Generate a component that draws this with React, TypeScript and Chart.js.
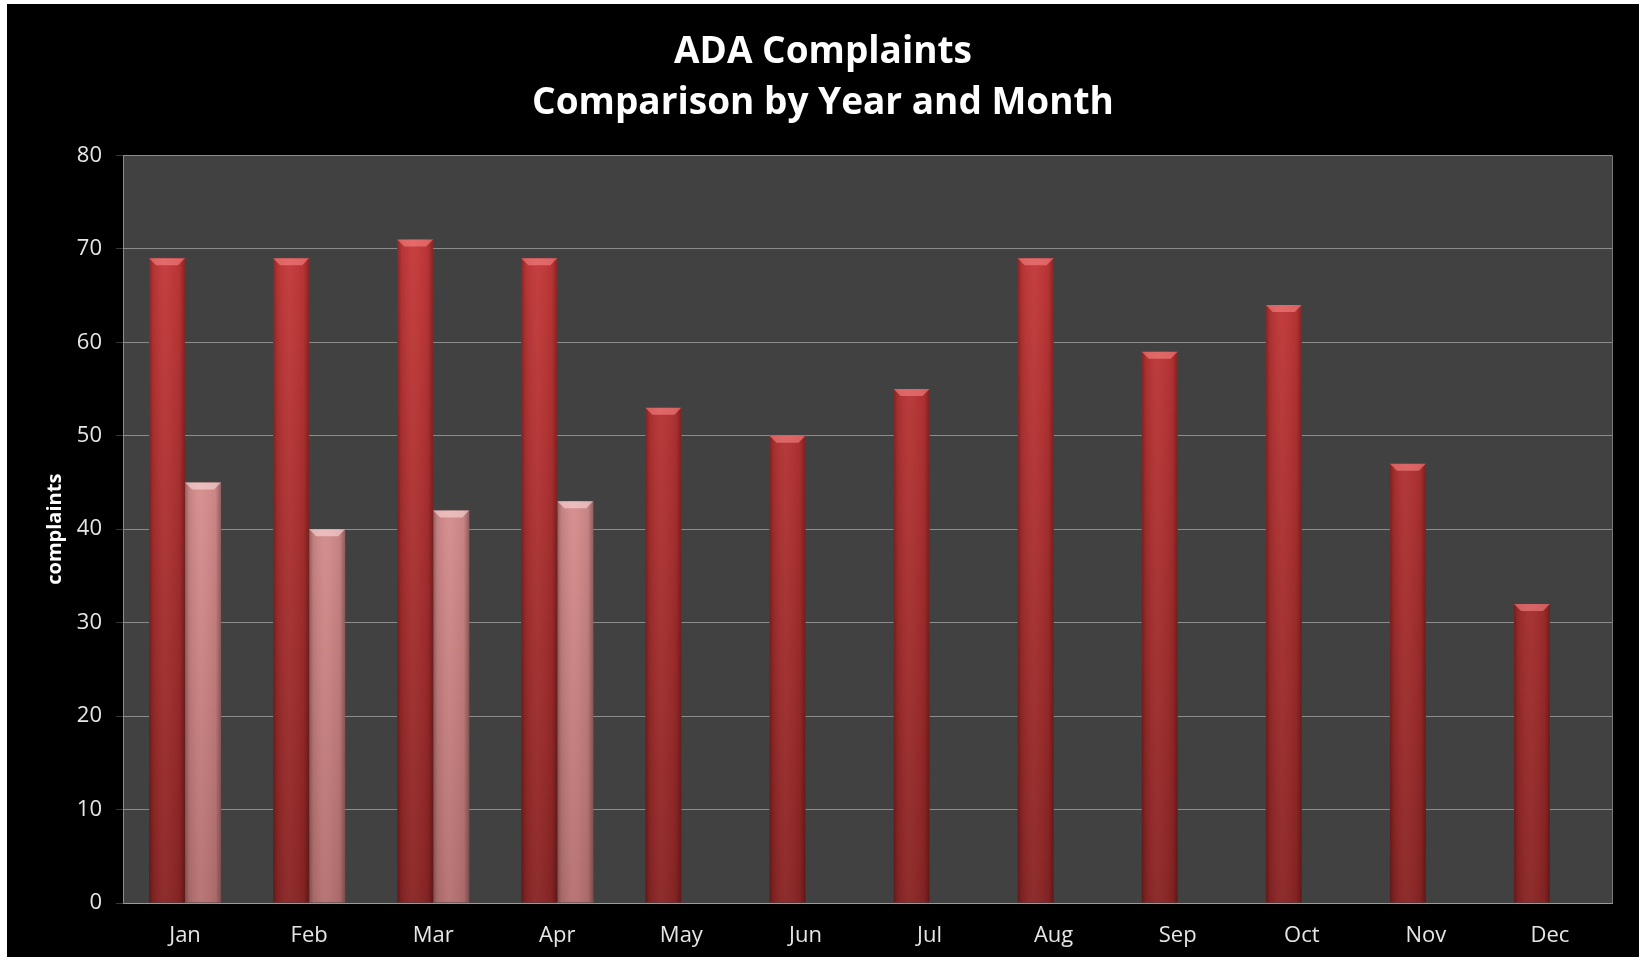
import React, { useEffect, useRef } from "react";
import { Chart, registerables } from "chart.js";

Chart.register(...registerables);

const months = ["Jan", "Feb", "Mar", "Apr", "May", "Jun", "Jul", "Aug", "Sep", "Oct", "Nov", "Dec"];
const previousYear = [69, 69, 71, 69, 53, 50, 55, 69, 59, 64, 47, 32];
const currentYear = [45, 40, 42, 43, null, null, null, null, null, null, null, null];
const titleLines = ["ADA Complaints", "Comparison by Year and Month"];
const yAxisTitle = "complaints";
const yMin = 0;
const yMax = 80;
const yStep = 10;

const FONT = "'Open Sans', 'DejaVu Sans', sans-serif";

const plotBgPlugin = {
  id: "plotBg",
  beforeDraw(chart: any) {
    const { ctx, chartArea } = chart;
    ctx.save();
    ctx.fillStyle = "#000";
    ctx.fillRect(0, 0, chart.width, chart.height);
    ctx.fillStyle = "#414141";
    ctx.fillRect(chartArea.left, chartArea.top, chartArea.right - chartArea.left, chartArea.bottom - chartArea.top);
    ctx.restore();
  },
  afterDraw(chart: any) {
    const { ctx, chartArea } = chart;
    ctx.save();
    ctx.strokeStyle = "#7a7a7a";
    ctx.lineWidth = 1;
    ctx.beginPath();
    ctx.moveTo(chartArea.right + 0.5, chartArea.top);
    ctx.lineTo(chartArea.right + 0.5, chartArea.bottom);
    ctx.stroke();
    ctx.restore();
  },
};

const bevelPlugin = {
  id: "bevel",
  afterDatasetsDraw(chart: any) {
    const ctx = chart.ctx;
    chart.data.datasets.forEach((ds: any, i: number) => {
      const meta = chart.getDatasetMeta(i);
      meta.data.forEach((bar: any, j: number) => {
        if (ds.data[j] == null) return;
        const { x, y, width, base } = bar.getProps(["x", "y", "width", "base"], true);
        const l = x - width / 2;
        const r = x + width / 2;
        ctx.save();
        const g = ctx.createLinearGradient(l, 0, r, 0);
        g.addColorStop(0, "rgba(0,0,0,0.30)");
        g.addColorStop(0.12, "rgba(0,0,0,0.08)");
        g.addColorStop(0.45, "rgba(255,255,255,0.04)");
        g.addColorStop(0.85, "rgba(0,0,0,0.06)");
        g.addColorStop(1, "rgba(0,0,0,0.32)");
        ctx.fillStyle = g;
        ctx.fillRect(l, y, width, base - y);
        const b = 7;
        ctx.beginPath();
        ctx.moveTo(l, y);
        ctx.lineTo(r, y);
        ctx.lineTo(r - b, y + b);
        ctx.lineTo(l + b, y + b);
        ctx.closePath();
        ctx.fillStyle = i === 0 ? "rgba(255,140,140,0.55)" : "rgba(255,225,225,0.55)";
        ctx.fill();
        ctx.restore();
      });
    });
  },
};

function vGrad(chart: any, top: string, bottom: string) {
  const { ctx, chartArea } = chart;
  if (!chartArea) return top;
  const g = ctx.createLinearGradient(0, chartArea.top, 0, chartArea.bottom);
  g.addColorStop(0, top);
  g.addColorStop(1, bottom);
  return g;
}

export default function App() {
  const ref = useRef<HTMLCanvasElement | null>(null);

  useEffect(() => {
    if (!ref.current) return;
    const chart = new Chart(ref.current, {
      type: "bar",
      data: {
        labels: months,
        datasets: [
          {
            label: "Previous year",
            data: previousYear,
            backgroundColor: (c: any) => vGrad(c.chart, "#cc3a3a", "#8a2424"),
            categoryPercentage: 0.58,
            barPercentage: 1.0,
            yAxisID: "y",
          },
          {
            label: "Current year",
            data: currentYear,
            backgroundColor: (c: any) => vGrad(c.chart, "#f0a4a4", "#b57070"),
            categoryPercentage: 0.58,
            barPercentage: 1.0,
            yAxisID: "y",
          },
        ],
      },
      options: {
        animation: false,
        responsive: false,
        maintainAspectRatio: false,
        layout: { padding: 0 },
        plugins: {
          legend: { display: false },
          tooltip: { enabled: false },
          title: {
            display: true,
            text: titleLines,
            color: "#ffffff",
            font: { family: FONT, size: 37, weight: "bold", lineHeight: 1.37 },
            padding: { top: 23, bottom: 27 },
          },
        },
        scales: {
          x: {
            grid: { display: false, drawTicks: false },
            border: { color: "#9a9a9a" },
            ticks: { color: "#e6e6e6", font: { family: FONT, size: 22 }, padding: 20 },
            afterFit: (s: any) => {
              s.height = 54;
            },
          },
          y: {
            min: yMin,
            max: yMax,
            ticks: { stepSize: yStep, color: "#e6e6e6", font: { family: FONT, size: 22 }, padding: 14 },
            grid: { color: "#8c8c8c", tickLength: 7, tickColor: "#3a3a3a" },
            border: { color: "#8a8a8a" },
            title: {
              display: true,
              text: yAxisTitle,
              color: "#ffffff",
              font: { family: FONT, size: 20, weight: "bold" },
              padding: { top: 36, bottom: 0 },
            },
            afterFit: (s: any) => {
              s.width = 116;
            },
          },
          yRightSpacer: {
            position: "right",
            min: yMin,
            max: yMax,
            grid: { display: false, drawTicks: false },
            border: { display: false },
            ticks: { display: false },
            afterFit: (s: any) => {
              s.width = 27;
            },
          },
        },
      } as any,
      plugins: [plotBgPlugin, bevelPlugin],
    });
    return () => chart.destroy();
  }, []);

  return (
    <div style={{ position: "fixed", left: 7, top: 4, width: 1632, height: 953 }}>
      <canvas ref={ref} width={1632} height={953} style={{ display: "block", width: 1632, height: 953 }} />
    </div>
  );
}
